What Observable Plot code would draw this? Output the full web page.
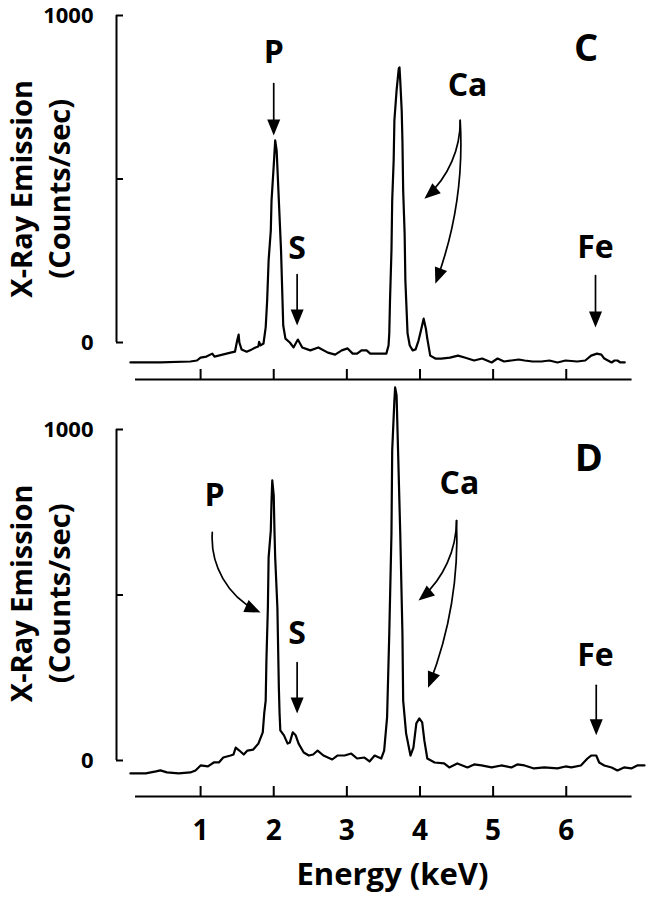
<!DOCTYPE html>
<html><head><meta charset="utf-8">
<script src="https://cdn.jsdelivr.net/npm/d3@7"></script>
<script src="https://cdn.jsdelivr.net/npm/@observablehq/plot@0.6"></script>
<style>
body{margin:0;background:#fff;}
#chart svg{display:block;overflow:visible;}
</style></head><body><div id="chart"></div>
<script>
// ---------- axis data ----------
const xTicks = [1, 2, 3, 4, 5, 6];
const yTicks = [0, 500, 1000];
const yTickLabels = ["0", "", "1000"];
const xAxisSpan = [0.11, 6.9];
const xDomain = [-0.15, 7.07];
const xTitle = "Energy (keV)";
const yTitle = "X-Ray Emission\n(Counts/sec)";

// ---------- spectrum C ----------
const energyC = [0.04,0.45,0.86,0.95,1.00,1.08,1.16,1.19,1.30,1.41,1.47,1.50,1.52,1.53,1.56,1.63,1.70,1.75,1.79,1.80,1.82,1.86,1.89,1.91,1.93,1.96,1.97,2.00,2.02,2.04,2.07,2.10,2.12,2.13,2.16,2.22,2.27,2.33,2.39,2.50,2.61,2.74,2.84,2.93,3.01,3.08,3.14,3.20,3.27,3.32,3.38,3.46,3.54,3.57,3.58,3.59,3.61,3.62,3.64,3.65,3.68,3.71,3.72,3.73,3.75,3.76,3.77,3.79,3.80,3.83,3.86,3.90,3.94,3.98,4.01,4.05,4.08,4.10,4.14,4.21,4.29,4.41,4.52,4.61,4.74,4.85,4.98,5.06,5.15,5.25,5.35,5.43,5.54,5.66,5.77,5.88,5.99,6.15,6.26,6.34,6.42,6.48,6.52,6.62,6.66,6.70,6.74,6.80];
const countsC = [-61,-61,-58,-55,-46,-43,-34,-43,-37,-31,-28,6,24,0,-21,-28,-21,-15,-12,2,-9,-3,46,128,251,343,434,541,618,587,434,281,128,52,12,0,-15,9,-15,-24,-15,-31,-37,-24,-18,-34,-34,-24,-24,-34,-34,-34,-34,-9,28,128,281,434,557,679,771,838,841,801,709,618,465,333,190,28,-9,-24,-21,6,34,73,43,12,-40,-49,-49,-46,-40,-46,-55,-49,-61,-49,-58,-55,-52,-55,-58,-58,-55,-61,-55,-58,-55,-40,-34,-37,-49,-61,-55,-55,-61,-61];

// ---------- spectrum D ----------
const energyD = [0.04,0.25,0.39,0.45,0.54,0.70,0.86,0.93,1.00,1.10,1.18,1.25,1.31,1.41,1.45,1.48,1.53,1.59,1.64,1.72,1.79,1.85,1.87,1.89,1.90,1.92,1.93,1.96,1.97,1.98,2.00,2.01,2.02,2.05,2.07,2.08,2.09,2.14,2.19,2.22,2.26,2.30,2.34,2.41,2.48,2.54,2.60,2.68,2.80,2.87,2.97,3.06,3.14,3.24,3.31,3.38,3.47,3.51,3.55,3.58,3.61,3.62,3.65,3.66,3.68,3.70,3.73,3.76,3.77,3.81,3.87,3.91,3.95,3.99,4.03,4.06,4.10,4.20,4.33,4.40,4.51,4.65,4.74,4.84,4.98,5.11,5.25,5.33,5.43,5.56,5.70,5.88,5.99,6.07,6.20,6.29,6.34,6.41,6.45,6.52,6.62,6.70,6.79,6.89,6.97,7.07];
const countsD = [-39,-39,-33,-30,-36,-39,-36,-30,-15,-18,-6,-6,9,15,18,39,30,18,30,33,51,85,142,181,302,462,613,695,785,846,801,695,613,462,221,142,91,76,51,54,85,76,51,24,15,18,30,15,3,15,15,21,6,9,-3,15,6,30,130,384,686,937,1088,1127,1103,937,686,384,181,82,15,39,112,127,115,60,6,-6,-9,-21,-9,-21,-12,-15,-21,-15,-21,-12,-15,-24,-21,-24,-18,-21,-15,6,15,15,-6,-15,-21,-30,-21,-24,-15,-15];

// ---------- annotations C ----------
const panelLetterC = ["C"]; const panelLetterXC = [6.27]; const panelLetterYC = [899];
const labelsC = ["P", "S", "Ca", "Fe"];
const labelXC = [2.00, 2.32, 4.65, 6.40];
const labelYC = [887, 287, 786, 291];
const arrowX1C = [2.00, 2.32, 4.55, 4.55, 6.40];
const arrowY1C = [792, 208, 679, 679, 205];
const arrowX2C = [2.00, 2.32, 4.06, 4.21, 6.40];
const arrowY2C = [633, 52, 440, 180, 46];
const arrowBendC = [0, 0, 25, 12, 0];

// ---------- annotations D ----------
const panelLetterD = ["D"]; const panelLetterXD = [6.31]; const panelLetterYD = [912];
const labelsD = ["P", "S", "Ca", "Fe"];
const labelXD = [1.19, 2.32, 4.54, 6.40];
const labelYD = [801, 384, 837, 317];
const arrowX1D = [1.16, 2.32, 4.50, 4.50, 6.41];
const arrowY1D = [689, 296, 725, 725, 227];
const arrowX2D = [1.82, 2.32, 3.98, 4.11, 6.41];
const arrowY2D = [447, 142, 483, 220, 76];
const arrowBendD = [-35, 0, 25, 12, 0];

const FONT = "'Open Sans', 'DejaVu Sans', sans-serif";
const W = 648, ML = 116, MR = 4;

function panel(o) {
  const spectrum = o.energy.map((e, i) => ({e, c: o.counts[i]}));
  const kx = (W - ML - MR) / (xDomain[1] - xDomain[0]);
  const ky = (o.height - o.marginTop - o.marginBottom) / (1000 - o.yMin);
  const arrows = o.ax1.map((_, i) => {
    const dxp = (o.ax2[i] - o.ax1[i]) * kx;
    const dyp = -(o.ay2[i] - o.ay1[i]) * ky;
    const heading = Math.atan2(dxp, -dyp) * 180 / Math.PI + o.bend[i];
    return {x1: o.ax1[i], y1: o.ay1[i], x2: o.ax2[i], y2: o.ay2[i], bend: o.bend[i], heading};
  });
  const labels = o.labels.map((t, i) => ({t, x: o.lx[i], y: o.ly[i]}));
  const letter = o.letter.map((t, i) => ({t, x: o.letterX[i], y: o.letterY[i]}));
  const marks = [
    Plot.ruleX([xDomain[0]], {y1: 0, y2: 1000, strokeWidth: 2}),
    Plot.axisY(yTicks, {anchor: "left", tickSize: -7, strokeWidth: 2, tickFormat: () => "", label: null}),
    Plot.axisY(yTicks, {anchor: "left", tickSize: 0, tickPadding: 23, fontSize: 22, label: null,
      tickFormat: d => yTickLabels[yTicks.indexOf(d)]}),
    Plot.ruleY([o.yMin], {x1: xAxisSpan[0], x2: xAxisSpan[1], strokeWidth: 2}),
    Plot.axisX(xTicks, {anchor: "bottom", tickSize: -10, tickPadding: 34, strokeWidth: 2, fontSize: 28, label: null,
      tickFormat: o.xLabels ? (d => String(d)) : (() => "")}),
    Plot.line(spectrum, {x: "e", y: "c", stroke: "black", strokeWidth: 2.2}),
    Plot.text([yTitle], {frameAnchor: "left", textAnchor: "middle", y: () => o.yTitleAt, dx: -78, rotate: -90, fontSize: 29, lineHeight: 1.31}),
    Plot.text(labels, {x: "x", y: "y", text: "t", fontSize: 32}),
    Plot.text(letter, {x: "x", y: "y", text: "t", fontSize: 38}),
    ...arrows.map(a => Plot.arrow([a], {x1: "x1", y1: "y1", x2: "x2", y2: "y2", bend: a.bend, headLength: 0, insetEnd: 4, strokeWidth: 1.7, stroke: "black"})),
    Plot.vector(arrows, {x: "x2", y: "y2", rotate: "heading", length: 16, r: 6.5, shape: "spike", anchor: "end", fill: "black", stroke: "none"})
  ];
  if (o.xLabels) marks.push(Plot.text([xTitle], {frameAnchor: "bottom", textAnchor: "middle", dx: 12, dy: 88, fontSize: 31}));
  return Plot.plot({
    width: W, height: o.height,
    marginLeft: ML, marginRight: MR, marginTop: o.marginTop, marginBottom: o.marginBottom,
    x: {domain: xDomain},
    y: {domain: [o.yMin, 1000]},
    style: {fontFamily: FONT, fontWeight: "bold", color: "black", overflow: "visible"},
    marks
  });
}

const chart = document.getElementById("chart");
chart.append(panel({
  energy: energyC, counts: countsC, height: 400, marginTop: 15, marginBottom: 21, yMin: -113.1,
  labels: labelsC, lx: labelXC, ly: labelYC, letter: panelLetterC, letterX: panelLetterXC, letterY: panelLetterYC,
  ax1: arrowX1C, ay1: arrowY1C, ax2: arrowX2C, ay2: arrowY2C, bend: arrowBendC, xLabels: false, yTitleAt: 470
}));
chart.append(panel({
  energy: energyD, counts: countsD, height: 500, marginTop: 29, marginBottom: 104, yMin: -108.8,
  labels: labelsD, lx: labelXD, ly: labelYD, letter: panelLetterD, letterX: panelLetterXD, letterY: panelLetterYD,
  ax1: arrowX1D, ay1: arrowY1D, ax2: arrowX2D, ay2: arrowY2D, bend: arrowBendD, xLabels: true, yTitleAt: 505
}));
</script></body></html>
